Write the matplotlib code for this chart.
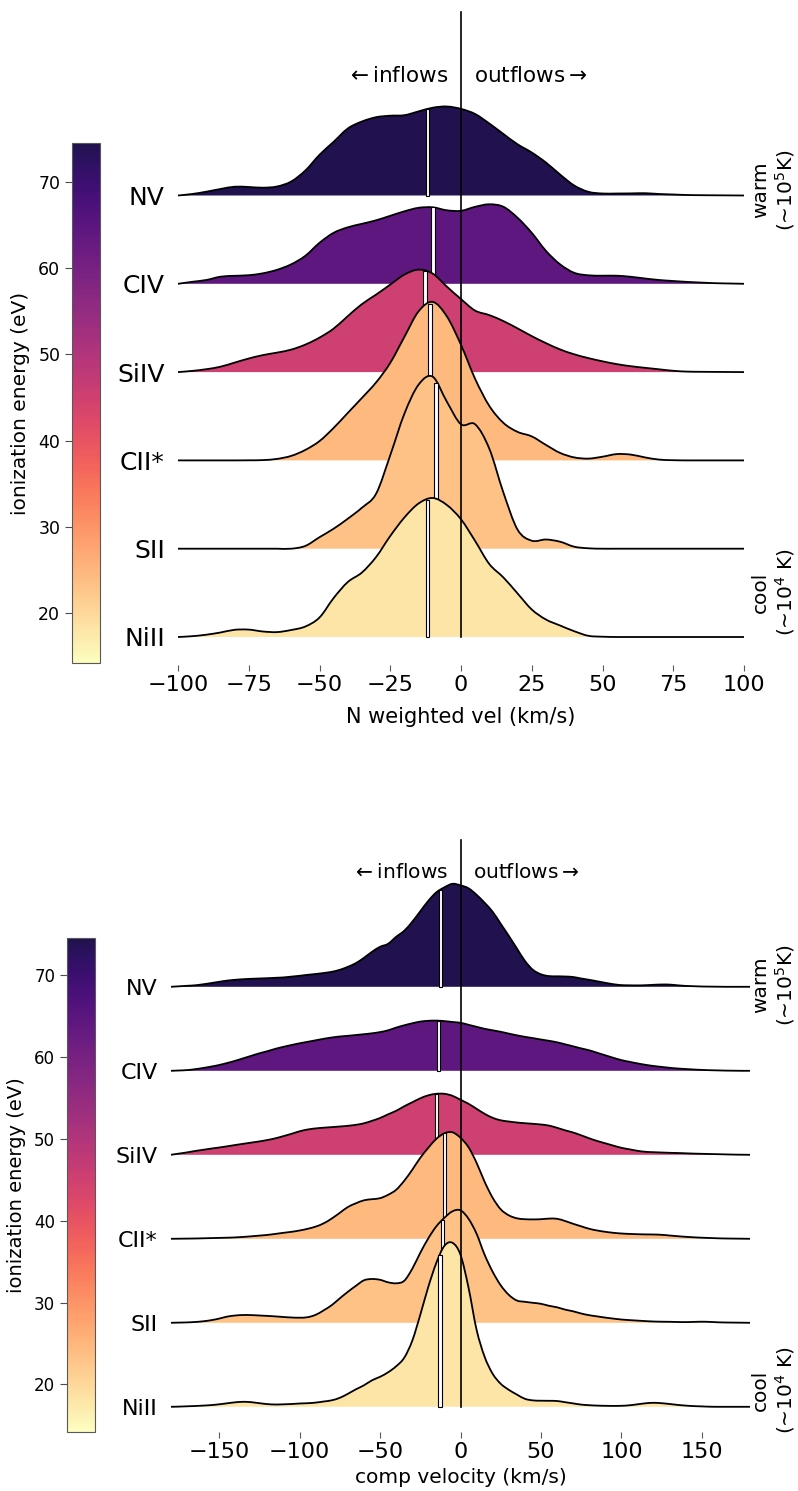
import numpy as np
import matplotlib
matplotlib.use("Agg")
import matplotlib.pyplot as plt
from matplotlib import colormaps
from matplotlib.colors import ListedColormap, Normalize
from matplotlib.cm import ScalarMappable
from matplotlib.path import Path
from matplotlib.patches import PathPatch

# ---------------------------------------------------------------- data
IONS = ["NV", "CIV", "SiIV", "CII*", "SII", "NiII"]
ION_ENERGY = [77.47, 64.49, 45.14, 24.38, 23.34, 18.17]   # eV

# column-density weighted velocity distributions (arbitrary density units)
VEL_N = np.arange(-100, 101, 5)
NV_N = [0, 1.5, 3.8, 6.5, 8.8, 8.5, 7.8, 9, 14, 25, 40.7, 53.7, 67, 74, 78.3,
        79.8, 80.3, 84.1, 87.8, 89, 86.6, 81.5, 72, 61.5, 51.2, 43, 33,
        21, 10, 3.7, 2, 2, 2.1, 2.3, 1.5, 1, 0.5, 0.3, 0.2, 0.1, 0]
CIV_N = [0, 2, 3.8, 7.1, 8, 8.6, 10.5, 14, 19.5, 28, 41, 51, 56.5, 60, 63.5,
         68, 72.5, 76, 76.5, 73.5, 73, 77, 79.5, 77, 66, 51, 33, 19.5, 11,
         8.5, 8.1, 8.1, 7, 5.3, 3.8, 2.8, 1.9, 1.2, 0.6, 0.3, 0]
SIIV_N = [0, 1.2, 2.9, 5.4, 9.5, 13.6, 17, 19.5, 22.5, 27.5, 34.5, 43.5, 56,
          68, 77.5, 87.5, 97.5, 102.5, 98.5, 85.5, 73, 61.5, 57, 51, 43.7, 36,
          29, 22.7, 17.8, 14, 10.8, 8, 5.9, 4.3, 2.8, 1.3, 0.5, 0.3, 0.2, 0.1, 0]
CIIS_N = [0, 0, 0, 0, 0, 0.1, 0.3, 1.5, 4.5, 10.5, 19.3, 32.5, 47.5, 62.5, 78,
          97.5, 123.5, 149, 158.5, 144, 115.5, 81.5, 54.5, 37.5, 28.5, 24,
          15.5, 7.5, 3, 1.8, 3.7, 6.3, 5.8, 3, 0.8, 0.2, 0, 0, 0, 0, 0]
SII_N = [0, 0, 0, 0, 0, 0, 0, 0, 0, 2.8, 11.5, 20, 30, 41, 55, 93.5, 135, 164,
         172, 147, 124.4, 124.4, 100, 56, 19, 8, 9.2, 7, 2, 0.4, 0, 0, 0, 0,
         0, 0, 0, 0, 0, 0, 0]
NIII_N = [0, 0.8, 2.3, 4.5, 7.2, 7.4, 5.5, 4.9, 7, 10.5, 19.5, 39, 55, 64.5,
          80, 101, 119.5, 133.5, 139, 132, 117.7, 96, 73, 59.5, 43.5, 27.5,
          17.5, 11.5, 5.8, 1.2, 0.3, 0, 0, 0, 0, 0, 0, 0, 0, 0, 0]
MEDIAN_N = [-11.8, -9.8, -12.7, -10.9, -8.8, -11.8]

# component velocity distributions (arbitrary density units)
VEL_C = np.arange(-180, 181, 5)
NV_C = [0, 0.5, 1, 1.5, 2.5, 3.7, 5, 6.2, 7, 7.6, 8, 8.3, 8.6, 9, 9.4, 10.2,
        11, 12, 12.8, 13.8, 15, 17, 20, 23.7, 29, 35, 40, 43, 50, 56, 65, 75.5,
        86, 94.5, 99.5, 103, 101.5, 98.5, 92, 84, 75, 63, 51, 38.5, 26, 17,
        12.5, 10.7, 10.5, 10.3, 9.8, 8.3, 7, 5.5, 4, 2.6, 1.7, 1.5, 1.4, 1.6,
        2, 2.3, 2.2, 1.5, 0.9, 0.6, 0.3, 0.2, 0.1, 0, 0, 0, 0]
CIV_C = [0, 0.3, 0.7, 1.6, 2.8, 4.2, 5.8, 7.8, 10, 12.5, 15, 17.5, 19.6, 22,
         24, 25.8, 27.5, 29, 30.5, 32, 33.3, 34.3, 35, 35.8, 36.6, 37.5, 38.7,
         40.5, 43.2, 45.5, 47.5, 49.2, 50, 50.2, 49.7, 48.8, 48, 46, 44, 42,
         40.5, 39, 37.2, 35.5, 34, 32.7, 31.3, 30, 28.5, 26.5, 24.5, 22.4,
         20.5, 18, 15.5, 13, 10.7, 9, 7.4, 6, 4.8, 3.9, 3, 2.3, 1.8, 1.3, 0.9,
         0.6, 0.4, 0.2, 0.1, 0, 0]
SIIV_C = [0, 1.2, 2.4, 3.8, 5, 6.2, 7.3, 8.5, 9.8, 11, 12.2, 13.4, 14.8, 16.5,
          18.7, 21, 23.5, 25.3, 26.4, 27.1, 27.7, 28.3, 29, 30, 31.5, 34, 36.8,
          40.5, 44, 48.5, 52.5, 56.5, 59.5, 61, 61, 59, 55, 51, 46, 41, 37,
          34.5, 33.3, 32.3, 31.6, 31, 30.3, 29.2, 27, 24.5, 22.3, 19.5, 16.5,
          13.8, 11.5, 9.2, 7, 5.5, 4, 3, 2.6, 2.3, 2, 1.8, 1.5, 1.2, 1, 0.8,
          0.6, 0.4, 0.2, 0.1, 0]
CIIS_C = [0, 0.1, 0.2, 0.3, 0.5, 0.7, 0.9, 1.1, 1.4, 1.9, 2.5, 3.2, 3.9, 4.9,
          6, 7, 8.3, 10, 12.2, 15.5, 20.3, 26, 31.8, 35.5, 38.5, 39.6, 40.6,
          44, 49, 58, 69, 81, 91, 100, 105.5, 106.5, 101, 91.5, 76, 57, 41,
          29.5, 23.5, 20.5, 19.6, 19.4, 19.6, 20.2, 20, 17.8, 15, 12.5, 10, 8.3,
          7, 6, 5.3, 4.9, 4.6, 4.4, 4.3, 4, 3.3, 2.6, 2, 1.5, 1.1, 0.8, 0.5,
          0.3, 0.2, 0.1, 0]
SII_C = [0, 0.2, 0.4, 0.8, 1.5, 2.6, 4.2, 6.2, 7.3, 7.8, 7.7, 7.3, 6.9, 6.4,
         5.8, 5.3, 5.1, 5.6, 8, 12.5, 17.7, 24.5, 31, 37, 42.5, 43.8, 43, 40.5,
         39.5, 42, 54, 70, 84.5, 96.5, 105, 111.5, 112.5, 104, 89, 68, 51,
         37.5, 28, 22.3, 21, 20, 19, 17, 15.5, 13.2, 11.5, 9.3, 7.6, 6.4, 5.2,
         4.2, 3.3, 2.7, 2.2, 1.7, 1.3, 1.1, 1, 0.8, 0.7, 0.9, 1.1, 0.9, 0.5,
         0.3, 0.2, 0.1, 0]
NIII_C = [0, 0.2, 0.5, 0.8, 1.2, 1.7, 2.5, 3.5, 4.5, 5, 4.6, 3.6, 2.7, 2.3,
          2.5, 2.8, 3.3, 3.6, 4.2, 5.3, 6.5, 9, 13, 17.5, 21.5, 26.5, 30, 34.5,
          40.5, 49, 66, 92, 120, 144, 161, 164, 152, 119, 77, 50, 33, 23, 17,
          12.3, 8, 6.4, 6.1, 6, 5.8, 4.6, 3.4, 2.2, 1.6, 1.2, 1, 0.9, 1, 1.5,
          2.5, 3.5, 4, 3.6, 2.8, 1.9, 1.2, 0.7, 0.4, 0.1, 0, 0, 0, 0, 0]
MEDIAN_C = [-12.4, -13.7, -14.9, -10.1, -11.0, -12.8]

# ---------------------------------------------------------------- style
W, H = 798, 1491
fig = plt.figure(figsize=(W / 100, H / 100), dpi=100)

magma = colormaps["magma"]
cmap = ListedColormap(magma(np.linspace(0.14, 1.0, 256))[::-1])
norm = Normalize(vmin=14.2, vmax=74.5)


def px_axes(left, top, right, bottom):
    return fig.add_axes([left / W, 1 - bottom / H, (right - left) / W,
                         (bottom - top) / H])


def smooth_vertices(x, y):
    """Cubic Bezier segments (Catmull-Rom tangents) through every sample."""
    n = len(x)
    verts = [(x[0], y[0])]
    codes = [Path.MOVETO]
    for i in range(n - 1):
        j0 = max(i - 1, 0)
        j3 = min(i + 2, n - 1)
        c1 = (x[i] + (x[i + 1] - x[j0]) / 6, y[i] + (y[i + 1] - y[j0]) / 6)
        c2 = (x[i + 1] - (x[j3] - x[i]) / 6, y[i + 1] - (y[j3] - y[i]) / 6)
        verts += [c1, c2, (x[i + 1], y[i + 1])]
        codes += [Path.CURVE4] * 3
    return verts, codes


def ridge_panel(ax, vel, curves, medians, scale, bar_w, ylim, xticks,
                row_size, arrow_y, arrow_size):
    n = len(curves)
    for i, (dens, med, energy) in enumerate(zip(curves, medians, ION_ENERGY)):
        base = n - 1 - i
        dens = np.asarray(dens, dtype=float)
        top = base + dens * scale
        z = 10 + 3 * i
        verts, codes = smooth_vertices(vel, top)
        area = Path(verts + [(vel[-1], base), (vel[0], base), verts[0]],
                    codes + [Path.LINETO, Path.LINETO, Path.CLOSEPOLY])
        ax.add_patch(PathPatch(area, facecolor=cmap(norm(energy)),
                               edgecolor="none", lw=0, zorder=z))
        ax.add_patch(PathPatch(Path(verts, codes), facecolor="none",
                               edgecolor="k", lw=1.3, zorder=z + 1))
        h = np.interp(med, vel, dens) * scale
        ax.bar(med, h, width=bar_w, bottom=base, color="white",
               edgecolor="k", linewidth=0.8, zorder=z + 2)
    ax.plot([0, 0], [0, ylim[1]], color="k", lw=1.2, zorder=100,
            clip_on=False)
    ax.set_xlim(vel[0], vel[-1])
    ax.set_ylim(*ylim)
    ax.set_yticks(np.arange(n))
    ax.set_yticklabels(IONS[::-1], fontsize=row_size)
    ax.tick_params(axis="y", length=0, pad=9.5)
    ax.set_xticks(xticks)
    ax.tick_params(axis="x", labelsize=16, length=4.5, width=0.8,
                   color="0.35", pad=2.5)
    for s in ax.spines.values():
        s.set_visible(False)
    ax.annotate(r"$\leftarrow$inflows", xy=(0, arrow_y), xytext=(-9, 0),
                textcoords="offset points", ha="right", va="center",
                fontsize=arrow_size)
    ax.annotate(r"outflows$\rightarrow$", xy=(0, arrow_y), xytext=(9, 0),
                textcoords="offset points", ha="left", va="center",
                fontsize=arrow_size)


def colorbar(cax, tick_size, label_size):
    cb = fig.colorbar(ScalarMappable(norm=norm, cmap=cmap), cax=cax)
    cb.set_ticks([20, 30, 40, 50, 60, 70])
    cb.ax.yaxis.set_ticks_position("left")
    cb.ax.yaxis.set_label_position("left")
    cb.ax.tick_params(labelsize=tick_size, length=5, width=0.8, color="0.3")
    cb.outline.set_edgecolor("0.35")
    cb.outline.set_linewidth(0.8)
    cb.set_label("ionization energy (eV)", fontsize=label_size, labelpad=6)


def temperature_notes(x, y_warm, y_cool, size):
    fig.text(x / W, 1 - y_warm / H, "warm\n(\u223c10$^5$K)",
             rotation=90, ha="center", va="center", multialignment="center",
             fontsize=size, linespacing=1.15)
    fig.text(x / W, 1 - y_cool / H, "cool\n(\u223c10$^4$ K)",
             rotation=90, ha="center", va="center", multialignment="center",
             fontsize=size, linespacing=1.15)


# ---------------------------------------------------------------- top panel
ax1 = px_axes(178, 12, 744, 665)
ridge_panel(ax1, VEL_N, [NV_N, CIV_N, SIIV_N, CIIS_N, SII_N, NIII_N],
            MEDIAN_N, 1 / 88.3, 1.3, ((637 - 665) / 88.3, (637 - 12) / 88.3),
            [-100, -75, -50, -25, 0, 25, 50, 75, 100], 18,
            (637 - 76) / 88.3, 15.5)
ax1.set_xlabel("N weighted vel (km/s)", fontsize=15)
ax1.xaxis.set_label_coords(0.5, -(707 - 665) / 653)

cax1 = px_axes(72, 143, 100, 663)
colorbar(cax1, 12.5, 14.5)
temperature_notes(774, 190, 592, 14.5)

# ---------------------------------------------------------------- bottom panel
ax2 = px_axes(170.9, 840, 750.1, 1432)
ridge_panel(ax2, VEL_C, [NV_C, CIV_C, SIIV_C, CIIS_C, SII_C, NIII_C],
            MEDIAN_C, 1 / 84.0, 2.1, ((1406.8 - 1432) / 84.0,
                                      (1406.8 - 840) / 84.0),
            [-150, -100, -50, 0, 50, 100, 150], 16, (1406.8 - 872) / 84.0,
            14.5)
ax2.set_xlabel("comp velocity (km/s)", fontsize=14.5)
ax2.xaxis.set_label_coords(0.5, -(1468 - 1432) / 592)

cax2 = px_axes(67, 938, 95, 1432)
colorbar(cax2, 12, 14)
temperature_notes(774, 985, 1390, 14.5)

fig.savefig("out.png", dpi=100)
